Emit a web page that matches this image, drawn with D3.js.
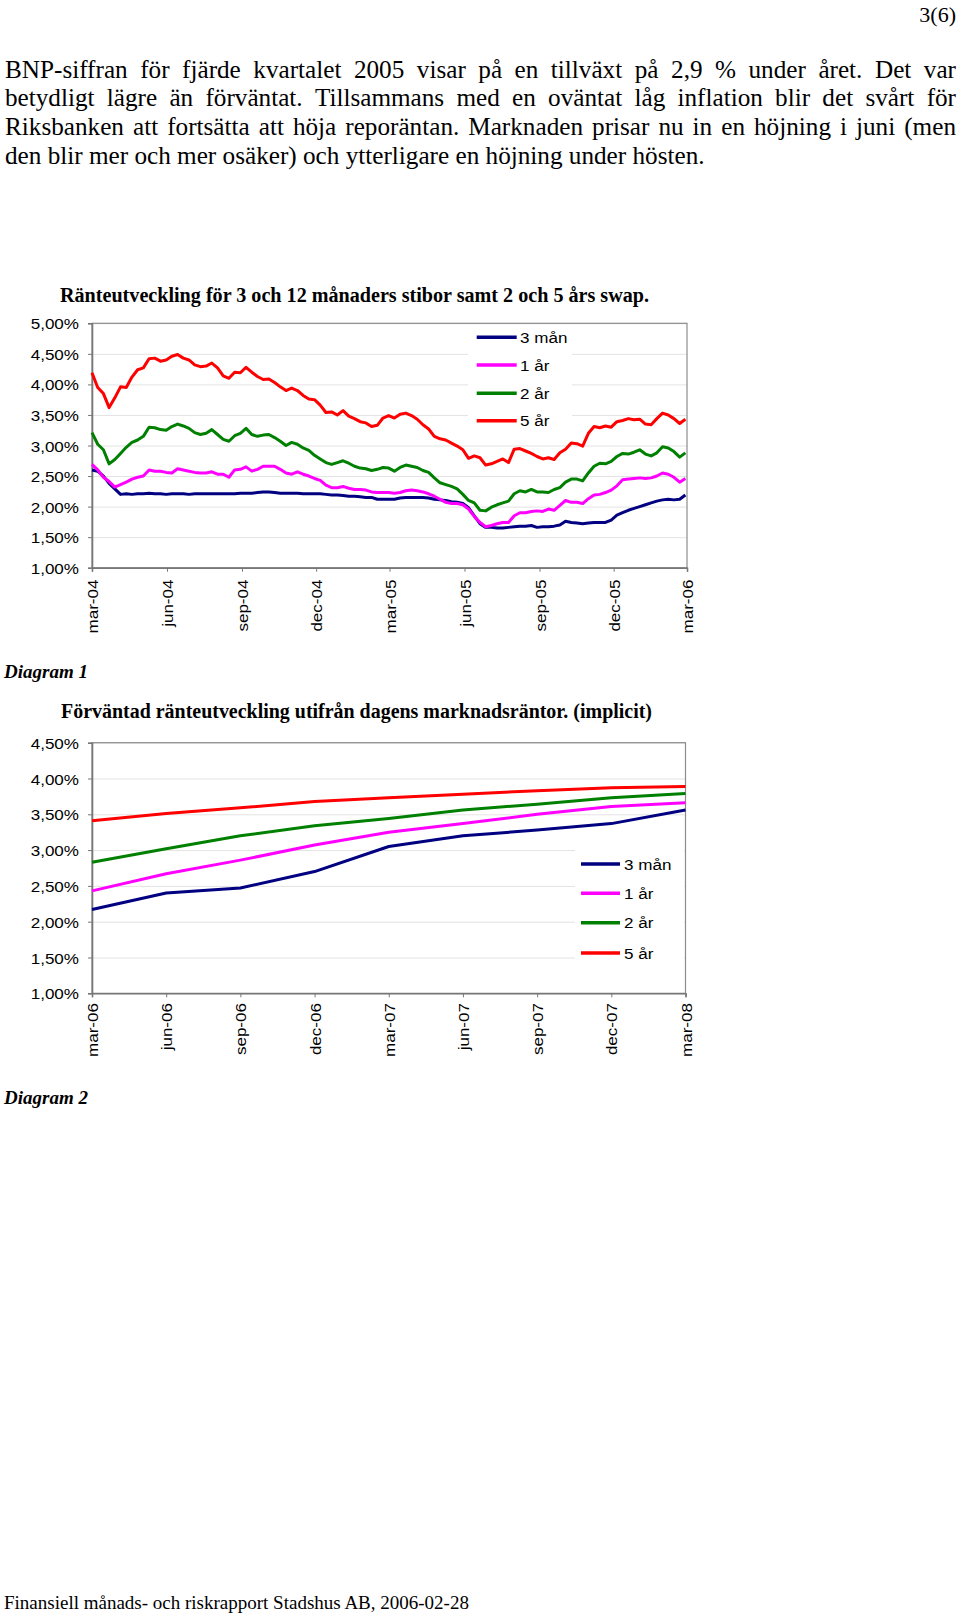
<!DOCTYPE html>
<html><head><meta charset="utf-8">
<script src="https://cdnjs.cloudflare.com/ajax/libs/d3/7.8.5/d3.min.js"></script>
<style>body{margin:0;background:#fff} svg{display:block}</style>
</head><body>
<svg id="page" width="960" height="1617"></svg>
<script>
// ---------- text ----------
const pageNumber = "3(6)";
const paragraphLines = [
  "BNP-siffran för fjärde kvartalet 2005 visar på en tillväxt på 2,9 % under året. Det var",
  "betydligt lägre än förväntat. Tillsammans med en oväntat låg inflation blir det svårt för",
  "Riksbanken att fortsätta att höja reporäntan. Marknaden prisar nu in en höjning i juni (men",
  "den blir mer och mer osäker) och ytterligare en höjning under hösten."
];
const chart1Title = "Ränteutveckling för 3 och 12 månaders stibor samt 2 och 5 års swap.";
const chart2Title = "Förväntad ränteutveckling utifrån dagens marknadsräntor. (implicit)";
const caption1 = "Diagram 1";
const caption2 = "Diagram 2";
const footer = "Finansiell månads- och riskrapport Stadshus AB, 2006-02-28";

// ---------- series ----------
const seriesNames = ["3 mån", "1 år", "2 år", "5 år"];
const seriesColors = ["#000080", "#FF00FF", "#008000", "#FF0000"];

// Chart 1: weekly readings starting 2004-03-01
const chart1Start = "2004-03-01";
const rate3m = [2.60,2.58,2.50,2.38,2.29,2.20,2.21,2.20,2.21,2.21,
  2.22,2.21,2.21,2.20,2.21,2.21,2.21,2.20,2.21,2.21,
  2.21,2.21,2.21,2.21,2.21,2.21,2.22,2.22,2.22,2.23,
  2.24,2.24,2.23,2.22,2.22,2.22,2.22,2.21,2.21,2.21,
  2.21,2.20,2.19,2.19,2.18,2.17,2.17,2.16,2.15,2.15,
  2.12,2.12,2.12,2.12,2.14,2.15,2.15,2.15,2.15,2.14,
  2.12,2.11,2.10,2.08,2.07,2.05,1.98,1.85,1.72,1.66,
  1.66,1.65,1.65,1.66,1.67,1.68,1.68,1.69,1.66,1.67,
  1.67,1.68,1.70,1.76,1.74,1.73,1.72,1.73,1.74,1.74,
  1.74,1.78,1.86,1.90,1.94,1.97,2.00,2.03,2.06,2.09,
  2.11,2.12,2.11,2.12,2.19];
const rate1y = [2.69,2.60,2.48,2.41,2.32,2.36,2.40,2.45,2.48,2.50,
  2.60,2.58,2.58,2.56,2.55,2.62,2.60,2.58,2.56,2.55,
  2.55,2.57,2.53,2.53,2.48,2.60,2.61,2.65,2.58,2.61,
  2.66,2.66,2.66,2.61,2.55,2.53,2.57,2.53,2.50,2.46,
  2.43,2.35,2.31,2.31,2.33,2.30,2.28,2.28,2.27,2.24,
  2.23,2.23,2.23,2.22,2.23,2.26,2.27,2.26,2.24,2.21,
  2.17,2.12,2.07,2.05,2.05,2.03,1.96,1.84,1.74,1.67,
  1.69,1.72,1.74,1.74,1.85,1.90,1.90,1.92,1.93,1.92,
  1.96,1.94,2.02,2.10,2.07,2.07,2.05,2.13,2.19,2.20,
  2.23,2.27,2.34,2.44,2.45,2.46,2.47,2.46,2.47,2.50,
  2.55,2.53,2.48,2.40,2.46];
const rate2y = [3.21,3.02,2.93,2.70,2.77,2.87,2.97,3.05,3.09,3.15,
  3.30,3.29,3.26,3.25,3.31,3.35,3.32,3.28,3.21,3.18,
  3.20,3.26,3.18,3.10,3.07,3.16,3.20,3.28,3.18,3.15,
  3.17,3.18,3.13,3.07,3.00,3.05,3.02,2.96,2.92,2.84,
  2.78,2.72,2.69,2.72,2.75,2.71,2.66,2.63,2.62,2.59,
  2.61,2.64,2.63,2.58,2.64,2.68,2.66,2.64,2.59,2.56,
  2.47,2.39,2.36,2.33,2.29,2.20,2.10,2.06,1.94,1.93,
  1.99,2.03,2.06,2.09,2.21,2.26,2.24,2.28,2.24,2.24,
  2.23,2.28,2.31,2.40,2.45,2.45,2.42,2.55,2.66,2.71,
  2.70,2.74,2.82,2.87,2.86,2.89,2.93,2.86,2.83,2.88,
  2.98,2.96,2.90,2.81,2.88];
const rate5y = [4.19,3.95,3.85,3.62,3.78,3.96,3.95,4.12,4.24,4.27,
  4.42,4.43,4.38,4.40,4.46,4.49,4.43,4.40,4.32,4.29,
  4.30,4.35,4.27,4.14,4.10,4.20,4.19,4.28,4.20,4.13,
  4.08,4.09,4.03,3.96,3.90,3.94,3.90,3.82,3.76,3.75,
  3.66,3.54,3.55,3.50,3.57,3.48,3.44,3.39,3.37,3.31,
  3.33,3.45,3.49,3.45,3.51,3.53,3.49,3.43,3.34,3.27,
  3.15,3.11,3.09,3.04,2.99,2.93,2.79,2.83,2.80,2.68,
  2.70,2.74,2.78,2.72,2.94,2.95,2.91,2.87,2.82,2.78,
  2.80,2.77,2.88,2.94,3.04,3.03,2.99,3.20,3.31,3.29,
  3.32,3.30,3.39,3.41,3.44,3.42,3.43,3.35,3.34,3.44,
  3.53,3.50,3.44,3.36,3.43];
const chart1Ticks = ["2004-03-01","2004-06-01","2004-09-01","2004-12-01","2005-03-01","2005-06-01","2005-09-01","2005-12-01","2006-03-01"];
const chart1TickLabels = ["mar-04","jun-04","sep-04","dec-04","mar-05","jun-05","sep-05","dec-05","mar-06"];
const chart1YTicks = [1.0,1.5,2.0,2.5,3.0,3.5,4.0,4.5,5.0];

// Chart 2: quarterly implied rates
const chart2Categories = ["mar-06","jun-06","sep-06","dec-06","mar-07","jun-07","sep-07","dec-07","mar-08"];
const impl3m = [2.17,2.40,2.47,2.70,3.05,3.20,3.28,3.37,3.56];
const impl1y = [2.43,2.67,2.86,3.07,3.25,3.37,3.50,3.61,3.66];
const impl2y = [2.83,3.02,3.20,3.34,3.44,3.56,3.64,3.73,3.79];
const impl5y = [3.41,3.51,3.59,3.68,3.73,3.78,3.83,3.87,3.89];
const chart2YTicks = [1.0,1.5,2.0,2.5,3.0,3.5,4.0,4.5];

// ---------- drawing ----------
const svg = d3.select("#page");
const SERIF = "'Liberation Serif','Times New Roman',serif";
const SANS = "'Liberation Sans',Arial,sans-serif";
const AX_FS = 15.5, AX_SX = 1.1;
const pctFmt = v => d3.format(".2f")(v).replace(".", ",") + "%";

svg.append("rect").attr("width",960).attr("height",1617).attr("fill","#fff");

// page number
svg.append("text").attr("x",956).attr("y",22).attr("text-anchor","end")
  .style("font-family",SERIF).style("font-size","22px").text(pageNumber);

// justified paragraph
(function(){
  const x0 = 5, W = 951, base0 = 77.5, lh = 28.7, fs = 25.2;
  paragraphLines.forEach((line, li) => {
    const words = line.split(" ");
    const g = svg.append("g");
    const nodes = words.map(w => g.append("text").attr("y", base0 + li*lh)
      .style("font-family",SERIF).style("font-size",fs+"px").text(w));
    const widths = nodes.map(n => n.node().getComputedTextLength());
    const sum = d3.sum(widths);
    const last = li === paragraphLines.length - 1;
    const gap = last ? fs*0.25 : (W - sum)/(words.length - 1);
    let x = x0;
    nodes.forEach((n,i) => { n.attr("x", x); x += widths[i] + gap; });
  });
})();

function titleText(txt, x, y, w){
  svg.append("text").attr("x",x).attr("y",y)
    .attr("textLength",w).attr("lengthAdjust","spacingAndGlyphs")
    .style("font-family",SERIF).style("font-size","20px").style("font-weight","bold")
    .text(txt);
}
function captionText(txt, y){
  svg.append("text").attr("x",4).attr("y",y)
    .style("font-family",SERIF).style("font-size","19px")
    .style("font-weight","bold").style("font-style","italic").text(txt);
}

function drawFrame(g, x, y, yTicks, left, right, top, bottom, xTickVals, xTickLabels, xLabelTop){
  g.append("g").attr("transform",`translate(${left},0)`)
    .call(d3.axisLeft(y).tickValues(yTicks).tickSize(-(right-left)).tickFormat(""))
    .call(s => s.select(".domain").remove())
    .call(s => s.selectAll("line").attr("stroke","#e3e3e3").attr("stroke-width",1));
  g.append("rect").attr("x",left).attr("y",top).attr("width",right-left).attr("height",bottom-top)
    .attr("fill","none").attr("stroke","#8c8c8c").attr("stroke-width",1.2);
  const ya = g.append("g").attr("transform",`translate(${left},0)`)
    .call(d3.axisLeft(y).tickValues(yTicks).tickSize(4).tickFormat(pctFmt));
  ya.select(".domain").attr("stroke","#777").attr("stroke-width",1.6);
  ya.selectAll("line").attr("stroke","#777");
  ya.selectAll("text").attr("x",0).attr("dy",null).attr("y",0)
    .attr("text-anchor","end")
    .attr("transform",`translate(-13,${AX_FS*0.36}) scale(${AX_SX},1)`)
    .style("font-family",SANS).style("font-size",AX_FS+"px").attr("fill","#000");
  const xa = g.append("g").attr("transform",`translate(0,${bottom})`)
    .call(d3.axisBottom(x).tickValues(xTickVals).tickSize(4).tickFormat((d,i)=>xTickLabels[i]));
  xa.select(".domain").attr("stroke","#777").attr("stroke-width",1.6);
  xa.selectAll("line").attr("stroke","#777");
  xa.selectAll("text").attr("x",0).attr("y",0).attr("dy",null)
    .attr("text-anchor","end")
    .attr("transform",`translate(5.6,${xLabelTop}) rotate(-90) scale(${AX_SX},1)`)
    .style("font-family",SANS).style("font-size",AX_FS+"px").attr("fill","#000");
}

function drawLegend(g, bx, by, bw, bh, lx0, lx1, tx, ys){
  g.append("rect").attr("x",bx).attr("y",by).attr("width",bw).attr("height",bh).attr("fill","#fff");
  seriesNames.forEach((n,i) => {
    g.append("line").attr("x1",lx0).attr("x2",lx1).attr("y1",ys[i]).attr("y2",ys[i])
      .attr("stroke",seriesColors[i]).attr("stroke-width",3.5);
    g.append("text").attr("x",0).attr("y",0)
      .attr("transform",`translate(${tx},${ys[i]+AX_FS*0.36}) scale(${AX_SX},1)`)
      .style("font-family",SANS).style("font-size",AX_FS+"px").text(n);
  });
}

// ---------- Chart 1 ----------
titleText(chart1Title, 60, 301.7, 589);
(function(){
  const left = 92, right = 687, top = 323.3, bottom = 567.7;
  const parse = d3.timeParse("%Y-%m-%d");
  const start = parse(chart1Start);
  const dates = rate3m.map((_,i) => d3.timeDay.offset(start, 7*i));
  const x = d3.scaleTime().domain([parse(chart1Ticks[0]), parse(chart1Ticks[chart1Ticks.length-1])]).range([left,right]);
  const y = d3.scaleLinear().domain([1,5]).range([bottom,top]);
  const g = svg.append("g");
  drawFrame(g, x, y, chart1YTicks, left, right, top, bottom, chart1Ticks.map(parse), chart1TickLabels, 11.8);
  drawLegend(g, 468, 326, 104, 106, 476.7, 516.7, 520, [337.3,365,393.3,420.7]);
  const line = d3.line().x((d,i)=>x(dates[i])).y(d=>y(d));
  [rate3m, rate1y, rate2y, rate5y].forEach((s,k) => {
    g.append("path").datum(s).attr("d",line).attr("fill","none")
      .attr("stroke",seriesColors[k]).attr("stroke-width",3)
      .attr("stroke-linejoin","round");
  });
})();
captionText(caption1, 678.3);

// ---------- Chart 2 ----------
titleText(chart2Title, 61, 718.3, 591);
(function(){
  const left = 92, right = 685.5, top = 742.7, bottom = 993.3;
  const x = d3.scaleLinear().domain([0, chart2Categories.length-1]).range([left,right]);
  const y = d3.scaleLinear().domain([1,4.5]).range([bottom,top]);
  const g = svg.append("g");
  drawFrame(g, x, y, chart2YTicks, left, right, top, bottom, d3.range(chart2Categories.length), chart2Categories, 9.7);
  drawLegend(g, 575, 850, 109, 116, 581, 620, 624, [864,893.3,922.7,953]);
  const line = d3.line().x((d,i)=>x(i)).y(d=>y(d));
  [impl3m, impl1y, impl2y, impl5y].forEach((s,k) => {
    g.append("path").datum(s).attr("d",line).attr("fill","none")
      .attr("stroke",seriesColors[k]).attr("stroke-width",3)
      .attr("stroke-linejoin","round");
  });
})();
captionText(caption2, 1103.5);

// footer
svg.append("text").attr("x",4).attr("y",1609)
  .style("font-family",SERIF).style("font-size","19px").text(footer);
</script>
</body></html>
